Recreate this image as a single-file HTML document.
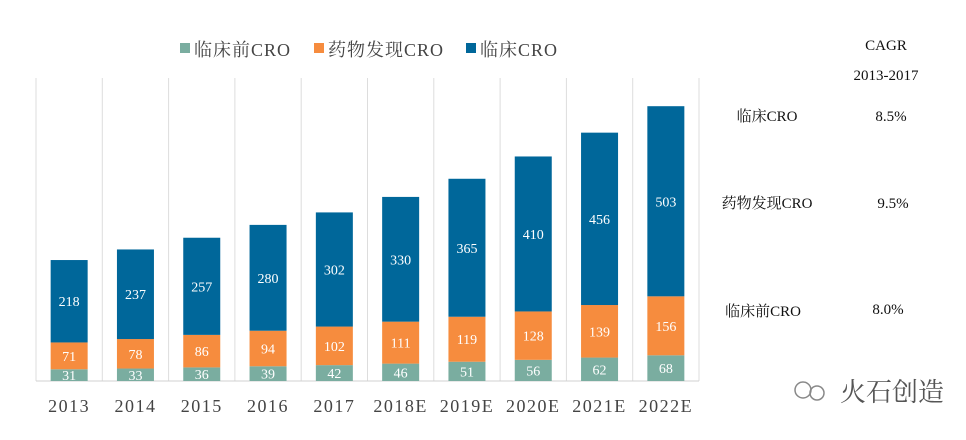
<!DOCTYPE html>
<html><head><meta charset="utf-8"><style>
body{margin:0;background:#fff;width:966px;height:435px;overflow:hidden;font-family:"Liberation Serif","Noto Serif CJK SC",serif}
svg text{font-family:"Liberation Serif","Noto Serif CJK SC",serif}
</style></head><body>
<svg id="c" width="966" height="435">
<g>
<rect x="180" y="43" width="10" height="10" fill="#7aada0"/>
<text x="194" y="56" font-size="18" letter-spacing="1" fill="#444">临床前CRO</text>
<rect x="314" y="43" width="10" height="10" fill="#f68c3e"/>
<text x="328" y="56" font-size="18" letter-spacing="1" fill="#444">药物发现CRO</text>
<rect x="466" y="43" width="10" height="10" fill="#00679a"/>
<text x="480" y="56" font-size="18" letter-spacing="1" fill="#444">临床CRO</text>
</g>
<g font-size="15" fill="#111">
<text x="886" y="50" text-anchor="middle">CAGR</text>
<text x="886" y="80" text-anchor="middle">2013-2017</text>
<text x="767" y="121" text-anchor="middle">临床CRO</text>
<text x="891" y="121" text-anchor="middle">8.5%</text>
<text x="767" y="208" text-anchor="middle">药物发现CRO</text>
<text x="893" y="208" text-anchor="middle">9.5%</text>
<text x="763" y="316" text-anchor="middle">临床前CRO</text>
<text x="888" y="314" text-anchor="middle">8.0%</text>
</g>
<g>
<circle cx="803" cy="390" r="8" fill="none" stroke="#888" stroke-width="1.5"/>
<circle cx="817" cy="393" r="7" fill="none" stroke="#888" stroke-width="1.5"/>
<text x="840" y="401" font-size="26" fill="#555" font-family="'Noto Sans CJK SC',sans-serif">火石创造</text>
</g>
<g id="plot"></g>
</svg>
<script>
const categories=["2013","2014","2015","2016","2017","2018E","2019E","2020E","2021E","2022E"];
const preclinical=[31,33,36,39,42,46,51,56,62,68];
const discovery=[71,78,86,94,102,111,119,128,139,156];
const clinical=[218,237,257,280,302,330,365,410,456,503];
const NS="http://www.w3.org/2000/svg";
const g=document.getElementById('plot');
const x0=36,step=66.3,base=381,k=0.378,bw=37;
const xs=i=>x0+step*i+step/2;
const ys=v=>v*k;
function mk(t,a){const e=document.createElementNS(NS,t);for(const n in a)e.setAttribute(n,a[n]);g.appendChild(e);return e;}
for(let i=0;i<=categories.length;i++){
  const l=mk('line',{x1:x0+step*i,x2:x0+step*i,y1:78,y2:base,stroke:'#ddd','stroke-width':1});
  
  
}
const ax=mk('line',{x1:x0,x2:x0+step*10,y1:base,y2:base,stroke:'#d0d0d0'});


const series=[[preclinical,'#7aada0','preclinical'],[discovery,'#f68c3e','discovery'],[clinical,'#00679a','clinical']];
categories.forEach((c,i)=>{
  let acc=0;
  series.forEach(([arr,col,nm])=>{
    const v=arr[i],h=ys(v),y=base-ys(acc+v);
    const r=mk('rect',{x:xs(i)-bw/2,y:y,width:bw,height:h,fill:col});
    
    
    const t=mk('text',{x:xs(i),y:y+h/2+5,'text-anchor':'middle','font-size':14,fill:'#fff'});
    t.textContent=v;
    
    
    acc+=v;
  });
  const t=mk('text',{x:xs(i),y:412,'text-anchor':'middle','font-size':18,fill:'#444','letter-spacing':'1.5'});
  t.textContent=c;
  
  
});
</script>
</body></html>
